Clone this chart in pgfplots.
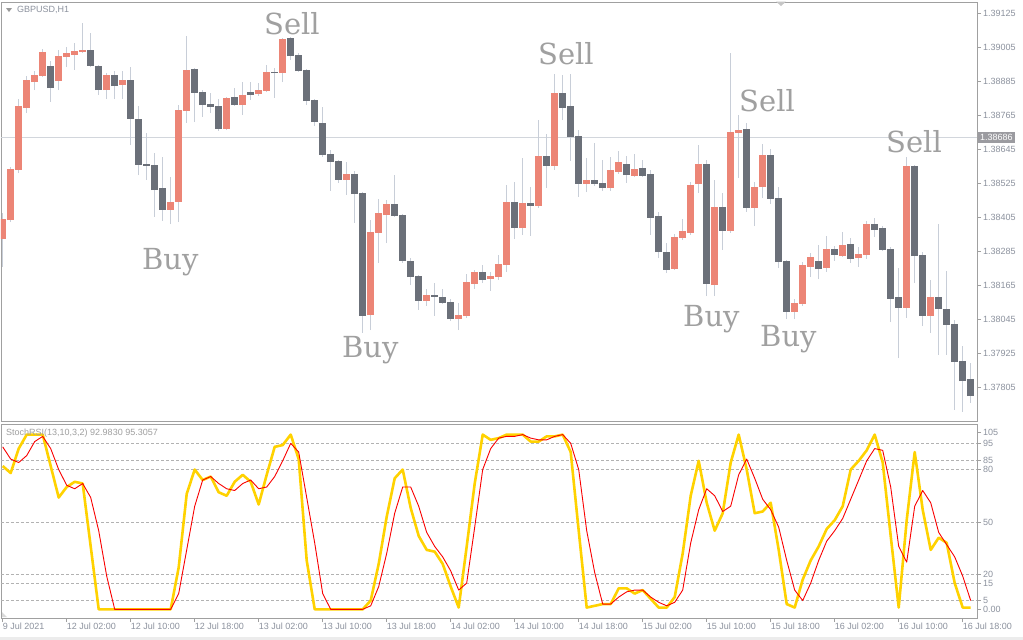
\documentclass[border=0pt]{standalone}
\usepackage{fontspec}
\setmainfont{Liberation Sans}
\newfontfamily\slab{DejaVu Serif}
\usepackage{pgfplots}
\usepackage{pgfplotstable}
\pgfplotsset{compat=1.18}
\definecolor{bull}{RGB}{236,133,118}
\definecolor{bear}{RGB}{107,112,121}
\definecolor{wick}{RGB}{200,206,216}
\definecolor{axisgray}{RGB}{160,160,160}
\definecolor{labelgray}{RGB}{140,146,158}
\definecolor{signgray}{RGB}{160,160,160}
\definecolor{gridgray}{RGB}{178,178,178}
\definecolor{stochyellow}{RGB}{255,210,0}
\definecolor{stochred}{RGB}{250,0,0}
\definecolor{priceline}{RGB}{210,214,220}
\definecolor{boxgray}{RGB}{155,155,160}

\pgfplotstableread{
i o h l c
0 1.38327 1.38419 1.38229 1.38398
1 1.38394 1.38582 1.38387 1.38574
2 1.38571 1.38821 1.38560 1.38797
3 1.38790 1.38903 1.38772 1.38889
4 1.38881 1.38920 1.38853 1.38906
5 1.38903 1.38998 1.38899 1.38987
6 1.38938 1.38956 1.38811 1.38860
7 1.38885 1.38994 1.38853 1.38973
8 1.38970 1.39005 1.38934 1.38984
9 1.38977 1.39019 1.38924 1.38991
10 1.38987 1.39090 1.38984 1.38994
11 1.38994 1.39054 1.38934 1.38938
12 1.38938 1.38942 1.38836 1.38853
13 1.38853 1.38913 1.38821 1.38906
14 1.38906 1.38920 1.38821 1.38867
15 1.38871 1.38920 1.38821 1.38889
16 1.38889 1.38934 1.38659 1.38751
17 1.38751 1.38797 1.38553 1.38589
18 1.38592 1.38702 1.38536 1.38585
19 1.38589 1.38631 1.38405 1.38500
20 1.38507 1.38617 1.38391 1.38430
21 1.38430 1.38546 1.38380 1.38458
22 1.38458 1.38800 1.38387 1.38783
23 1.38779 1.39044 1.38737 1.38924
24 1.38927 1.38931 1.38740 1.38843
25 1.38846 1.38853 1.38758 1.38800
26 1.38804 1.38843 1.38772 1.38793
27 1.38797 1.38821 1.38709 1.38716
28 1.38716 1.38829 1.38712 1.38825
29 1.38829 1.38860 1.38797 1.38800
30 1.38800 1.38881 1.38765 1.38836
31 1.38846 1.38881 1.38818 1.38836
32 1.38839 1.38878 1.38832 1.38853
33 1.38850 1.38942 1.38846 1.38917
34 1.38917 1.38931 1.38825 1.38913
35 1.38913 1.39037 1.38881 1.39033
36 1.39037 1.39040 1.38959 1.38973
37 1.38977 1.38984 1.38917 1.38920
38 1.38924 1.38927 1.38800 1.38814
39 1.38818 1.38821 1.38726 1.38740
40 1.38737 1.38793 1.38617 1.38624
41 1.38627 1.38642 1.38497 1.38599
42 1.38603 1.38606 1.38525 1.38536
43 1.38536 1.38599 1.38483 1.38557
44 1.38557 1.38567 1.38384 1.38486
45 1.38490 1.38493 1.37996 1.38056
46 1.38059 1.38394 1.38006 1.38352
47 1.38349 1.38469 1.38243 1.38419
48 1.38412 1.38465 1.38313 1.38451
49 1.38451 1.38553 1.38405 1.38409
50 1.38412 1.38416 1.38243 1.38250
51 1.38250 1.38260 1.38165 1.38193
52 1.38197 1.38200 1.38077 1.38109
53 1.38109 1.38151 1.38091 1.38130
54 1.38130 1.38172 1.38056 1.38123
55 1.38123 1.38151 1.38098 1.38102
56 1.38105 1.38116 1.38038 1.38045
57 1.38045 1.38102 1.38006 1.38059
58 1.38056 1.38204 1.38049 1.38176
59 1.38169 1.38218 1.38151 1.38211
60 1.38211 1.38236 1.38172 1.38183
61 1.38186 1.38211 1.38144 1.38197
62 1.38193 1.38271 1.38183 1.38239
63 1.38236 1.38518 1.38211 1.38458
64 1.38458 1.38529 1.38327 1.38366
65 1.38366 1.38613 1.38342 1.38454
66 1.38454 1.38511 1.38338 1.38444
67 1.38444 1.38747 1.38437 1.38620
68 1.38620 1.38698 1.38507 1.38585
69 1.38585 1.38910 1.38571 1.38843
70 1.38843 1.38906 1.38747 1.38790
71 1.38797 1.38910 1.38603 1.38687
72 1.38691 1.38712 1.38476 1.38522
73 1.38522 1.38613 1.38493 1.38536
74 1.38536 1.38666 1.38514 1.38522
75 1.38525 1.38606 1.38497 1.38507
76 1.38507 1.38617 1.38497 1.38571
77 1.38564 1.38638 1.38557 1.38599
78 1.38592 1.38620 1.38525 1.38553
79 1.38550 1.38627 1.38546 1.38574
80 1.38578 1.38606 1.38546 1.38550
81 1.38557 1.38571 1.38342 1.38402
82 1.38409 1.38423 1.38260 1.38281
83 1.38281 1.38313 1.38207 1.38218
84 1.38221 1.38345 1.38218 1.38334
85 1.38331 1.38398 1.38324 1.38356
86 1.38349 1.38529 1.38342 1.38518
87 1.38522 1.38659 1.38490 1.38592
88 1.38592 1.38606 1.38126 1.38169
89 1.38165 1.38536 1.38126 1.38440
90 1.38440 1.38490 1.38289 1.38356
91 1.38356 1.38984 1.38349 1.38705
92 1.38702 1.38765 1.38543 1.38712
93 1.38716 1.38737 1.38423 1.38437
94 1.38437 1.38529 1.38373 1.38511
95 1.38511 1.38663 1.38472 1.38624
96 1.38624 1.38645 1.38451 1.38469
97 1.38472 1.38511 1.38225 1.38246
98 1.38250 1.38253 1.38045 1.38070
99 1.38070 1.38116 1.38045 1.38102
100 1.38098 1.38246 1.38091 1.38236
101 1.38229 1.38278 1.38193 1.38264
102 1.38250 1.38306 1.38186 1.38221
103 1.38225 1.38338 1.38211 1.38292
104 1.38292 1.38303 1.38250 1.38271
105 1.38267 1.38352 1.38264 1.38306
106 1.38310 1.38331 1.38243 1.38257
107 1.38260 1.38299 1.38229 1.38274
108 1.38271 1.38391 1.38257 1.38380
109 1.38380 1.38402 1.38334 1.38359
110 1.38366 1.38373 1.38285 1.38289
111 1.38292 1.38299 1.38034 1.38116
112 1.38123 1.38225 1.37907 1.38084
113 1.38084 1.38617 1.38049 1.38585
114 1.38585 1.38589 1.38172 1.38267
115 1.38271 1.38281 1.38020 1.38056
116 1.38056 1.38183 1.37996 1.38123
117 1.38123 1.38380 1.37918 1.38080
118 1.38080 1.38214 1.37918 1.38024
119 1.38027 1.38041 1.37724 1.37893
120 1.37897 1.37950 1.37717 1.37826
121 1.37833 1.37890 1.37749 1.37773
}\ohlc

\pgfplotstableread{
i k d
0 82 93
1 78 86
2 92 84
3 100 88
4 100 96
5 100 99
6 82 92
7 64 80
8 70 71
9 73 69
10 72 72
11 36 64
12 0 45
13 0 19
14 0 0
15 0 0
16 0 0
17 0 0
18 0 0
19 0 0
20 0 0
21 0 0
22 24 9
23 66 34
24 80 59
25 74 74
26 76 76
27 67 72
28 65 69
29 73 68
30 77 72
31 73 74
32 60 69
33 77 70
34 93 76
35 94 85
36 100 95
37 86 90
38 28 64
39 0 38
40 0 9
41 0 0
42 0 0
43 0 0
44 0 0
45 0 0
46 5 2
47 26 13
48 53 32
49 75 55
50 80 70
51 58 70
52 42 59
53 34 44
54 33 36
55 26 30
56 13 22
57 1 11
58 36 15
59 72 47
60 100 80
61 97 92
62 98 98
63 100 99
64 100 99
65 100 100
66 96 98
67 96 97
68 99 97
69 99 99
70 100 100
71 90 95
72 45 80
73 1 45
74 2 21
75 3 3
76 3 3
77 12 7
78 12 10
79 9 11
80 11 11
81 6 7
82 1 4
83 1 2
84 7 4
85 32 11
86 65 38
87 85 57
88 61 69
89 45 65
90 55 56
91 84 59
92 100 77
93 80 86
94 55 75
95 56 63
96 61 57
97 34 47
98 3 28
99 1 11
100 17 5
101 28 15
102 36 28
103 46 39
104 51 45
105 59 52
106 80 63
107 85 74
108 91 85
109 100 92
110 84 91
111 42 70
112 1 36
113 51 27
114 90 59
115 57 68
116 34 61
117 41 44
118 38 37
119 15 30
120 1 19
121 1 5
}\stoch

\begin{document}
\begin{tikzpicture}
\useasboundingbox (0,0) rectangle (1023pt,-640pt);
\fill[white] (0,0) rectangle (1023pt,-640pt);
\fill[gray!15] (0,-637pt) rectangle (1023pt,-640pt);

% ---------- price panel ----------
\begin{axis}[
  at={(1pt,-2pt)}, anchor=north west,
  scale only axis, width=976pt, height=419pt,
  xmin=-0.2125, xmax=121.7875,
  ymin=1.37685, ymax=1.391638,
  xtick=\empty,
  ytick={1.39125,1.39005,1.38885,1.38765,1.38645,1.38525,1.38405,1.38285,1.38165,1.38045,1.37925,1.37805},
  yticklabels={1.39125,1.39005,1.38885,1.38765,1.38645,1.38525,1.38405,1.38285,1.38165,1.38045,1.37925,1.37805},
  ytick pos=right, yticklabel pos=right,
  tick align=outside, major tick length=4pt,
  tick style={draw=axisgray, line width=0.8pt},
  axis line style={draw=axisgray, line width=0.9pt},
  yticklabel style={font=\fontsize{9}{9}\selectfont, text=labelgray, anchor=west, inner sep=0pt, xshift=2pt},
]
\draw[priceline, line width=0.9pt] (axis cs:-0.2125,1.38686) -- (axis cs:121.7875,1.38686);

% wicks
\addplot[draw=none, mark=none, error bars/.cd, y dir=plus, y explicit, error mark=none,
  error bar style={draw=wick, line width=1pt}]
  table[x=i, y=l, y error plus expr={\thisrow{h}-\thisrow{l}}]{\ohlc};
% bullish bodies
\addplot[draw=none, mark=none, restrict expr to domain={\thisrow{c}-\thisrow{o}}{0:1},
  error bars/.cd, y dir=plus, y explicit, error mark=none,
  error bar style={draw=bull, line width=7pt}]
  table[x=i, y=o, y error plus expr={\thisrow{c}-\thisrow{o}}]{\ohlc};
% bearish bodies
\addplot[draw=none, mark=none, restrict expr to domain={\thisrow{c}-\thisrow{o}}{-1:0},
  error bars/.cd, y dir=plus, y explicit, error mark=none,
  error bar style={draw=bear, line width=7pt}]
  table[x=i, y=c, y error plus expr={\thisrow{o}-\thisrow{c}}]{\ohlc};

\tikzset{sig/.style={font=\slab\fontsize{29}{29}\selectfont, text=signgray, anchor=base west, inner sep=0pt}}
\node[sig] at (axis cs:32.66,1.390474) {Sell};
\node[sig] at (axis cs:17.41,1.382180) {Buy};
\node[sig] at (axis cs:42.41,1.379074) {Buy};
\node[sig] at (axis cs:66.91,1.389415) {Sell};
\node[sig] at (axis cs:92.04,1.387756) {Sell};
\node[sig] at (axis cs:110.41,1.386344) {Sell};
\node[sig] at (axis cs:85.04,1.380203) {Buy};
\node[sig] at (axis cs:94.66,1.379497) {Buy};
\end{axis}

% ---------- StochRSI panel ----------
\begin{axis}[
  at={(1pt,-424pt)}, anchor=north west,
  scale only axis, width=976pt, height=194pt,
  xmin=-0.2125, xmax=121.7875,
  ymin=-4.98, ymax=106.07,
  xtick={0,8,16,24,32,40,48,56,64,72,80,88,96,104,112,120},
  xticklabels={9 Jul 2021,12 Jul 02:00,12 Jul 10:00,12 Jul 18:00,13 Jul 02:00,13 Jul 10:00,13 Jul 18:00,14 Jul 02:00,14 Jul 10:00,14 Jul 18:00,15 Jul 02:00,15 Jul 10:00,15 Jul 18:00,16 Jul 02:00,16 Jul 10:00,16 Jul 18:00},
  xtick pos=left, xticklabel pos=left,
  ytick={0,5,15,20,50,80,85,95,101.5},
  yticklabels={0.00,5,15,20,50,80,85,95,105},
  ytick pos=right, yticklabel pos=right,
  tick align=outside, major tick length=4pt,
  tick style={draw=axisgray, line width=0.8pt},
  axis line style={draw=axisgray, line width=0.9pt},
  yticklabel style={font=\fontsize{9}{9}\selectfont, text=labelgray, anchor=west, inner sep=0pt, xshift=2pt},
  xticklabel style={font=\fontsize{9}{9}\selectfont, text=labelgray, anchor=north west, inner sep=0pt, yshift=-1pt},
]
\pgfplotsinvokeforeach{95,85,80,50,20,15,5}{
  \draw[gridgray, dash pattern=on 3pt off 2pt, line width=0.8pt] (axis cs:-0.2125,#1) -- (axis cs:121.7875,#1);
}
\addplot[stochyellow, line width=2.6pt, line join=round, mark=none] table[x=i, y=k]{\stoch};
\addplot[stochred, line width=0.9pt, line join=round, mark=none] table[x=i, y=d]{\stoch};
\end{axis}

% ---------- decorations ----------
\fill[gray!80] (6pt,-8pt) -- (12pt,-8pt) -- (9pt,-12pt) -- cycle;
\node[font=\fontsize{9}{9}\selectfont, text=labelgray, anchor=west, inner sep=0pt] at (17pt,-10pt) {GBPUSD,H1};
\fill[gray!45] (776pt,-1.5pt) -- (786pt,-1.5pt) -- (781pt,-6pt) -- cycle;
\node[font=\fontsize{9}{9}\selectfont, text=gray!75, anchor=west, inner sep=0pt] at (6pt,-433pt) {StochRSI(13,10,3,2) 92.9830 95.3057};
\fill[gray!30] (2pt,-617pt) -- (7pt,-617pt) -- (2pt,-612pt) -- cycle;
\node[fill=boxgray, text=white, font=\fontsize{9}{9}\selectfont, inner xsep=2pt, inner ysep=2pt, anchor=west] at (978pt,-137.5pt) {1.38686};
\end{tikzpicture}
\end{document}
